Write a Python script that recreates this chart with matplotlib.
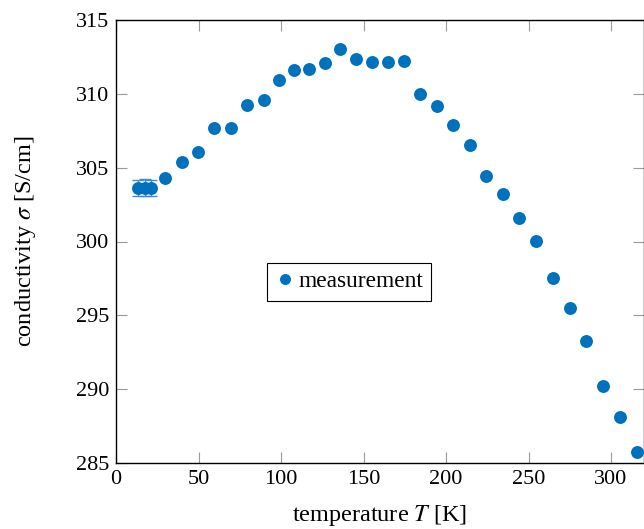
import numpy as np
import matplotlib.pyplot as plt

plt.rcParams['font.family'] = ['Liberation Serif', 'DejaVu Serif']
plt.rcParams['mathtext.fontset'] = 'stix'

# low temperature points (repeated runs, with error bars)
T_low = [13.5, 17.5, 21.0]
sigma_low = [303.62, 303.65, 303.63]
err_low = [0.55, 0.55, 0.55]

# regular sweep
T = [29.7, 40.0, 49.7, 59.4, 69.7, 79.4, 89.7, 98.8, 107.9, 117.0,
     126.7, 135.8, 145.5, 155.2, 164.8, 174.5, 184.2, 194.5, 204.2, 214.5,
     224.2, 234.5, 244.2, 254.5, 264.8, 275.2, 284.8, 295.2, 305.5, 315.8]
sigma = [304.30, 305.39, 306.06, 307.69, 307.69, 309.25, 309.58, 310.94, 311.61, 311.68,
         312.09, 313.04, 312.36, 312.16, 312.16, 312.22, 309.99, 309.18, 307.89, 306.54,
         304.44, 303.22, 301.59, 300.04, 297.53, 295.50, 293.27, 290.22, 288.12, 285.75]

blue = '#0071bc'
errblue = '#3b8fd0'

fig = plt.figure(figsize=(6.44, 5.29), dpi=100)
ax = fig.add_axes([116/644, 66/529, 528/644, 443/529])

ax.errorbar(T_low, sigma_low, yerr=err_low, fmt='none', ecolor=errblue,
            elinewidth=1.0, capsize=4.5, capthick=1.0, zorder=2)
ax.plot(T_low + T, sigma_low + sigma, 'o', color=blue, markersize=9.3,
        markeredgewidth=0, label='measurement', zorder=3, clip_on=False)

ax.set_xlim(0, 320)
ax.set_ylim(285, 315)
ax.set_xticks([0, 50, 100, 150, 200, 250, 300])
ax.set_yticks([285, 290, 295, 300, 305, 310, 315])
ax.tick_params(direction='in', length=8, width=0.8, color='#999999',
               labelsize=16, pad=5, top=True, right=True)
for s in ax.spines.values():
    s.set_linewidth(1.0)

ax.set_xlabel(r'temperature $T$ [K]', fontsize=17.5, labelpad=10)
ax.set_ylabel(r'conductivity $\sigma$ [S/cm]', fontsize=17.5, labelpad=27)

leg = ax.legend(loc='center', bbox_to_anchor=(0.441, 0.409), fontsize=16.8,
                fancybox=False, framealpha=1, edgecolor='black',
                handletextpad=0.1, handlelength=0.9, borderpad=0.35,
                markerscale=0.85)
leg.get_frame().set_linewidth(0.8)

fig.savefig('out.png', dpi=100)
